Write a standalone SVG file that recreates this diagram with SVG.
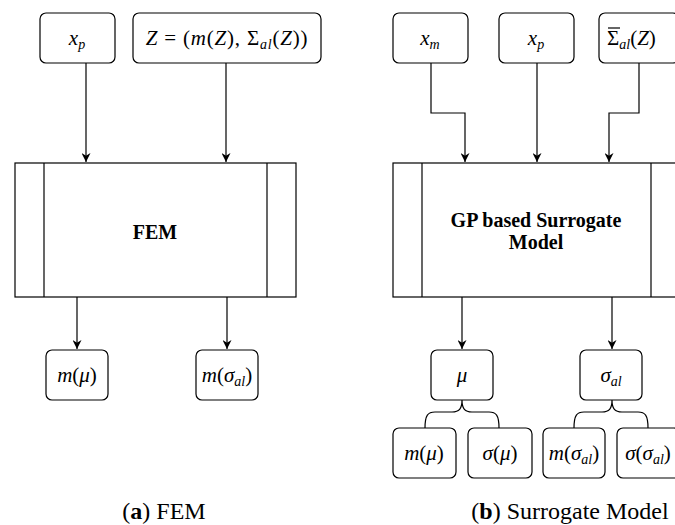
<svg xmlns="http://www.w3.org/2000/svg" width="675" height="525" viewBox="0 0 675 525">
<defs>
<style>
.box{fill:#fff;stroke:#000;stroke-width:1.2}
.proc{fill:#fff;stroke:#000;stroke-width:1.2}
.edge{fill:none;stroke:#000;stroke-width:1.2}
.m{font-family:"Liberation Serif","DejaVu Serif",serif;font-size:21px;fill:#000;text-anchor:middle}
.i{font-style:italic}
.s{font-size:14px;font-style:italic}
.b{font-family:"Liberation Serif","DejaVu Serif",serif;font-size:20px;font-weight:bold;fill:#000;text-anchor:middle}
.cap{font-family:"Liberation Serif","DejaVu Serif",serif;font-size:24px;fill:#000;text-anchor:middle}
</style>
<marker id="arr" viewBox="0 0 10 10" refX="10" refY="5" markerWidth="9" markerHeight="9" markerUnits="userSpaceOnUse" orient="auto">
<path d="M0,0 L10,5 L0,10 L3,5 Z" fill="#000"/>
</marker>
</defs>
<rect width="675" height="525" fill="#fff"/>

<g id="connectors">
<line class="edge" x1="86" y1="63" x2="86" y2="162" marker-end="url(#arr)"/>
<line class="edge" x1="226" y1="63" x2="226" y2="162" marker-end="url(#arr)"/>
<line class="edge" x1="77" y1="297" x2="77" y2="349" marker-end="url(#arr)"/>
<line class="edge" x1="227" y1="297" x2="227" y2="349" marker-end="url(#arr)"/>
<path class="edge" d="M431,63 L431,113 L465,113 L465,162" marker-end="url(#arr)"/>
<line class="edge" x1="537" y1="63" x2="537" y2="162" marker-end="url(#arr)"/>
<path class="edge" d="M639,63 L639,113 L609,113 L609,162" marker-end="url(#arr)"/>
<line class="edge" x1="462" y1="297" x2="462" y2="349" marker-end="url(#arr)"/>
<line class="edge" x1="612" y1="297" x2="612" y2="349" marker-end="url(#arr)"/>
<path class="edge" d="M462,400 C462,409 459,412 452,412 L435,412 C428,412 425,415 425,428 M462,400 C462,409 465,412 472,412 L489,412 C496,412 499,415 499,428"/>
<path class="edge" d="M612,400 C612,409 609,412 602,412 L584,412 C577,412 574,415 574,428 M612,400 C612,409 615,412 622,412 L638,412 C645,412 648,415 648,428"/>
</g>

<g id="fem-xp">
<rect class="box" x="40" y="13" width="75" height="50" rx="6"/>
<text class="m" x="77" y="45"><tspan class="i">x</tspan><tspan class="s" dy="4">p</tspan></text>
</g>
<g id="fem-z">
<rect class="box" x="133" y="13" width="188" height="50" rx="6"/>
<text class="m" x="227" y="45" style="letter-spacing:0.8px"><tspan class="i">Z</tspan> = (<tspan class="i">m</tspan>(<tspan class="i">Z</tspan>), Σ<tspan class="s" dy="4">al</tspan><tspan dy="-4">(</tspan><tspan class="i">Z</tspan>))</text>
</g>
<g id="fem">
<rect class="proc" x="15" y="163" width="281" height="134"/>
<line class="proc" x1="44" y1="163" x2="44" y2="297"/>
<line class="proc" x1="267" y1="163" x2="267" y2="297"/>
<text class="b" x="155" y="239">FEM</text>
</g>
<g id="fem-mmu">
<rect class="box" x="46" y="350" width="62" height="50" rx="6"/>
<text class="m" x="77" y="382"><tspan class="i">m</tspan>(<tspan class="i">μ</tspan>)</text>
</g>
<g id="fem-msig">
<rect class="box" x="196" y="350" width="62" height="50" rx="6"/>
<text class="m" x="227" y="382"><tspan class="i">m</tspan>(<tspan class="i">σ</tspan><tspan class="s" dy="4">al</tspan><tspan dy="-4">)</tspan></text>
</g>

<g id="sm-xm">
<rect class="box" x="393" y="13" width="75" height="50" rx="6"/>
<text class="m" x="430" y="45"><tspan class="i">x</tspan><tspan class="s" dy="4">m</tspan></text>
</g>
<g id="sm-xp">
<rect class="box" x="499" y="13" width="75" height="50" rx="6"/>
<text class="m" x="536" y="45"><tspan class="i">x</tspan><tspan class="s" dy="4">p</tspan></text>
</g>
<g id="sm-sigma">
<rect class="box" x="599" y="13" width="80" height="50" rx="6"/>
<text class="m" x="607" y="45" style="text-anchor:start">Σ<tspan class="s" dy="4">al</tspan><tspan dy="-4">(</tspan><tspan class="i">Z</tspan>)</text>
<line x1="608" y1="28" x2="620" y2="28" stroke="#000" stroke-width="1.2"/>
</g>
<g id="gp">
<rect class="proc" x="393" y="163" width="290" height="134"/>
<line class="proc" x1="422" y1="163" x2="422" y2="297"/>
<line class="proc" x1="651" y1="163" x2="651" y2="297"/>
<text class="b" x="536" y="227">GP based Surrogate</text>
<text class="b" x="536" y="249">Model</text>
</g>
<g id="sm-mu">
<rect class="box" x="431" y="350" width="62" height="50" rx="6"/>
<text class="m" x="462" y="382"><tspan class="i">μ</tspan></text>
</g>
<g id="sm-sig">
<rect class="box" x="580" y="350" width="62" height="50" rx="6"/>
<text class="m" x="611" y="382"><tspan class="i">σ</tspan><tspan class="s" dy="4">al</tspan></text>
</g>
<g id="sm-mmu">
<rect class="box" x="393" y="428" width="63" height="50" rx="6"/>
<text class="m" x="424" y="460"><tspan class="i">m</tspan>(<tspan class="i">μ</tspan>)</text>
</g>
<g id="sm-smu">
<rect class="box" x="468" y="428" width="64" height="50" rx="6"/>
<text class="m" x="500" y="460"><tspan class="i">σ</tspan>(<tspan class="i">μ</tspan>)</text>
</g>
<g id="sm-msig">
<rect class="box" x="543" y="428" width="62" height="50" rx="6"/>
<text class="m" x="574" y="460"><tspan class="i">m</tspan>(<tspan class="i">σ</tspan><tspan class="s" dy="4">al</tspan><tspan dy="-4">)</tspan></text>
</g>
<g id="sm-ssig">
<rect class="box" x="617" y="428" width="63" height="50" rx="6"/>
<text class="m" x="648" y="460"><tspan class="i">σ</tspan>(<tspan class="i">σ</tspan><tspan class="s" dy="4">al</tspan><tspan dy="-4">)</tspan></text>
</g>

<text class="cap" x="164" y="519">(<tspan font-weight="bold">a</tspan>) FEM</text>
<text class="cap" x="570" y="519">(<tspan font-weight="bold">b</tspan>) Surrogate Model</text>
</svg>
